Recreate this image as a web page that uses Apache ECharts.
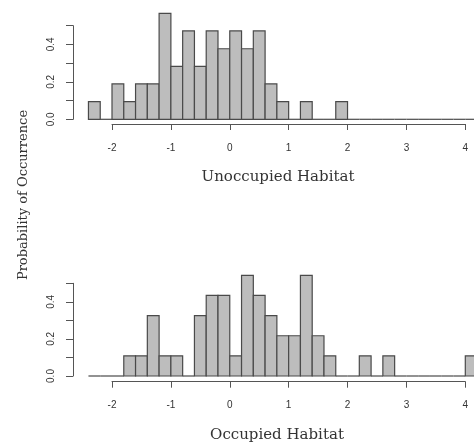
<!DOCTYPE html>
<html>
<head>
<meta charset="utf-8">
<script src="https://cdn.jsdelivr.net/npm/echarts@6/dist/echarts.min.js"></script>
<style>
html,body{margin:0;padding:0;background:#fff;}
#chart{width:474px;height:444px;}
</style>
</head>
<body>
<div id="chart"></div>
<script>
// Histogram bins (left edges), width 0.2
const binStarts = [-2.4,-2.2,-2.0,-1.8,-1.6,-1.4,-1.2,-1.0,-0.8,-0.6,-0.4,-0.2,0.0,0.2,0.4,0.6,0.8,1.0,1.2,1.4,1.6,1.8,2.0,2.2,2.4,2.6,2.8,3.0,3.2,3.4,3.6,3.8,4.0];
const binWidth = 0.2;
// Density values
const unoccupied = [0.094,0,0.189,0.094,0.189,0.189,0.566,0.283,0.472,0.283,0.472,0.377,0.472,0.377,0.472,0.189,0.094,0,0.094,0,0,0.094,0,0,0,0,0,0,0,0,0,0,0];
const occupied = [0,0,0,0.109,0.109,0.326,0.109,0.109,0,0.326,0.435,0.435,0.109,0.543,0.435,0.326,0.217,0.217,0.543,0.217,0.109,0,0,0.109,0,0.109,0,0,0,0,0,0,0.109];
const xTicks = [-2,-1,0,1,2,3,4];
const yTicks = [0,0.1,0.2,0.3,0.4,0.5];
const titles = ['Unoccupied Habitat','Occupied Habitat'];
const yTitle = 'Probability of Occurrence';

const axisColor = '#555';
const textColor = '#333';

function xAxisFor(i, offset) {
  return {
    type:'value', gridIndex:i, min:xTicks[0], max:xTicks[xTicks.length-1], interval:1, offset:offset,
    axisLine:{show:true, onZero:false, lineStyle:{color:axisColor, width:1}},
    axisTick:{show:true, length:6, lineStyle:{color:axisColor}},
    axisLabel:{color:textColor, fontSize:10, fontFamily:'Liberation Sans, Arial, sans-serif', margin:19},
    splitLine:{show:false}
  };
}
function yAxisFor(i) {
  return {
    type:'value', gridIndex:i, min:yTicks[0], max:yTicks[yTicks.length-1], interval:0.1, offset:39,
    axisLine:{show:true, onZero:false, lineStyle:{color:axisColor, width:1}},
    axisTick:{show:true, length:7, lineStyle:{color:axisColor}},
    axisLabel:{color:textColor, fontSize:10, fontFamily:'Liberation Sans, Arial, sans-serif', rotate:90, margin:17,
      formatter: v => (Math.round(v*10) % 2 === 0 ? v.toFixed(1) : '')},
    splitLine:{show:false}
  };
}
function histSeries(i, values) {
  return {
    type:'custom', xAxisIndex:i, yAxisIndex:i, clip:false, silent:true,
    encode:{x:[0,1], y:2},
    data: values.map((v,k) => [binStarts[k], binStarts[k] + binWidth, v]),
    renderItem(params, api) {
      const p0 = api.coord([api.value(0), 0]);
      const p1 = api.coord([api.value(1), api.value(2)]);
      if (api.value(2) === 0) {
        return {type:'line', shape:{x1:p0[0], y1:p0[1], x2:p1[0], y2:p0[1]},
          style:{stroke:'#4a4a4a', lineWidth:1.2}};
      }
      return {type:'rect', shape:{x:p0[0], y:p1[1], width:p1[0]-p0[0], height:p0[1]-p1[1]},
        style:{fill:'#bdbdbd', stroke:'#4a4a4a', lineWidth:1.2}};
    }
  };
}

const chart = echarts.init(document.getElementById('chart'), null, {renderer:'canvas'});
chart.setOption({
  backgroundColor:'#fff',
  animation:false,
  grid:[
    {left:112, right:8.7, top:25.7, bottom:324.7},
    {left:112, right:8.7, top:283.3, bottom:68}
  ],
  xAxis:[xAxisFor(0, 4.7), xAxisFor(1, 5.7)],
  yAxis:[yAxisFor(0), yAxisFor(1)],
  title:[
    {text:titles[0], left:273, top:165, textAlign:'center',
     textStyle:{fontFamily:'DejaVu Serif, serif', fontSize:15, fontWeight:'normal', color:textColor}},
    {text:titles[1], left:272, top:423, textAlign:'center',
     textStyle:{fontFamily:'DejaVu Serif, serif', fontSize:15, fontWeight:'normal', color:textColor}}
  ],
  graphic:[
    {type:'text', x:24, y:195, rotation:Math.PI/2,
     style:{text:yTitle, fontFamily:'DejaVu Serif, serif', fontSize:13, fill:textColor,
       textAlign:'center', textVerticalAlign:'middle'}}
  ],
  series:[histSeries(0, unoccupied), histSeries(1, occupied)]
});
</script>
</body>
</html>
